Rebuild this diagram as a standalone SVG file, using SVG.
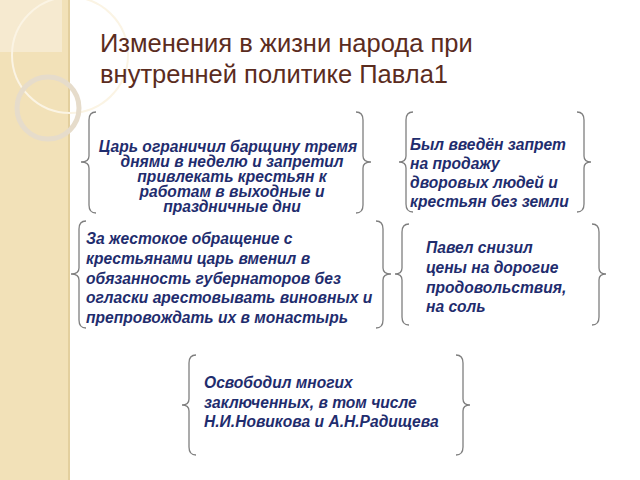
<svg xmlns="http://www.w3.org/2000/svg" width="640" height="480" viewBox="0 0 640 480">
<style>
.b{fill:none;stroke:#7f7f7f;stroke-width:1.3}
.t{font-family:"Liberation Sans",Arial,sans-serif;font-size:15.6px;font-weight:bold;font-style:italic;fill:#1f2d6e}
.h{font-family:"Liberation Sans",Arial,sans-serif;font-size:25.5px;fill:#5b2c1e}
</style>
<rect width="640" height="480" fill="#fff"/>
<rect width="70" height="480" fill="#f2e1b8"/>
<rect x="68" width="2" height="480" fill="#e3cf9e"/>
<rect width="62" height="52" fill="#f6ead0"/>
<circle cx="70" cy="55" r="58" fill="none" stroke="#fbf4e4" stroke-width="2"/>
<circle cx="48" cy="108" r="31" fill="none" stroke="#e6dccb" stroke-width="5"/>
<text class="h" x="100" y="52">Изменения в жизни народа при</text>
<text class="h" x="100" y="83">внутренней политике Павла1</text>
<g id="connectors"></g>
<g id="n1">
<path class="b" d="M96,112 Q89,112 89,120 L89,156 Q89,162 81,162 Q89,162 89,168 L89,205 Q89,213 96,213"/>
<path class="b" d="M356,112 Q363,112 363,120 L363,156 Q363,162 371,162 Q363,162 363,168 L363,205 Q363,213 356,213"/>
<text class="t" font-size="13.6" text-anchor="middle"><tspan x="228" y="152">Царь ограничил барщину тремя</tspan><tspan x="232" y="167">днями в неделю и запретил</tspan><tspan x="232" y="182">привлекать крестьян к</tspan><tspan x="232" y="197">работам в выходные  и</tspan><tspan x="232" y="212">праздничные дни</tspan></text>
</g>
<g id="n2">
<path class="b" d="M413,112 Q406,112 406,120 L406,156 Q406,162 399,162 Q406,162 406,168 L406,204 Q406,212 413,212"/>
<path class="b" d="M577,112 Q584,112 584,120 L584,156 Q584,162 591,162 Q584,162 584,168 L584,204 Q584,212 577,212"/>
<text class="t" font-size="14.2"><tspan x="410" y="150">Был введён запрет</tspan><tspan x="410" y="169">на продажу</tspan><tspan x="410" y="188">дворовых людей и</tspan><tspan x="410" y="207">крестьян без земли</tspan></text>
</g>
<g id="n3">
<path class="b" d="M86,221 Q79,221 79,229 L79,268 Q79,274 71,274 Q79,274 79,280 L79,320 Q79,328 86,328"/>
<path class="b" d="M376,221 Q383,221 383,229 L383,268 Q383,274 391,274 Q383,274 383,280 L383,320 Q383,328 376,328"/>
<text class="t"><tspan x="86" y="244">За жестокое обращение с</tspan><tspan x="86" y="264">крестьянами царь вменил в</tspan><tspan x="86" y="284">обязанность губернаторов без</tspan><tspan x="86" y="303">огласки арестовывать виновных и</tspan><tspan x="86" y="323">препровождать их в монастырь</tspan></text>
</g>
<g id="n4">
<path class="b" d="M409,224 Q402,224 402,232 L402,268 Q402,274 395,274 Q402,274 402,280 L402,317 Q402,325 409,325"/>
<path class="b" d="M592,224 Q599,224 599,232 L599,268 Q599,274 606,274 Q599,274 599,280 L599,317 Q599,325 592,325"/>
<text class="t" font-size="14.2"><tspan x="426" y="253">Павел снизил</tspan><tspan x="426" y="273">цены на дорогие</tspan><tspan x="426" y="293">продовольствия,</tspan><tspan x="426" y="312">на соль</tspan></text>
</g>
<g id="n5">
<path class="b" d="M196,355 Q189,355 189,363 L189,399 Q189,405 182,405 Q189,405 189,411 L189,447 Q189,455 196,455"/>
<path class="b" d="M456,355 Q463,355 463,363 L463,399 Q463,405 470,405 Q463,405 463,411 L463,447 Q463,455 456,455"/>
<text class="t" font-size="14.4"><tspan x="204" y="388">Освободил многих</tspan><tspan x="204" y="408">заключенных, в том числе</tspan><tspan x="204" y="427">Н.И.Новикова и А.Н.Радищева</tspan></text>
</g>
</svg>
